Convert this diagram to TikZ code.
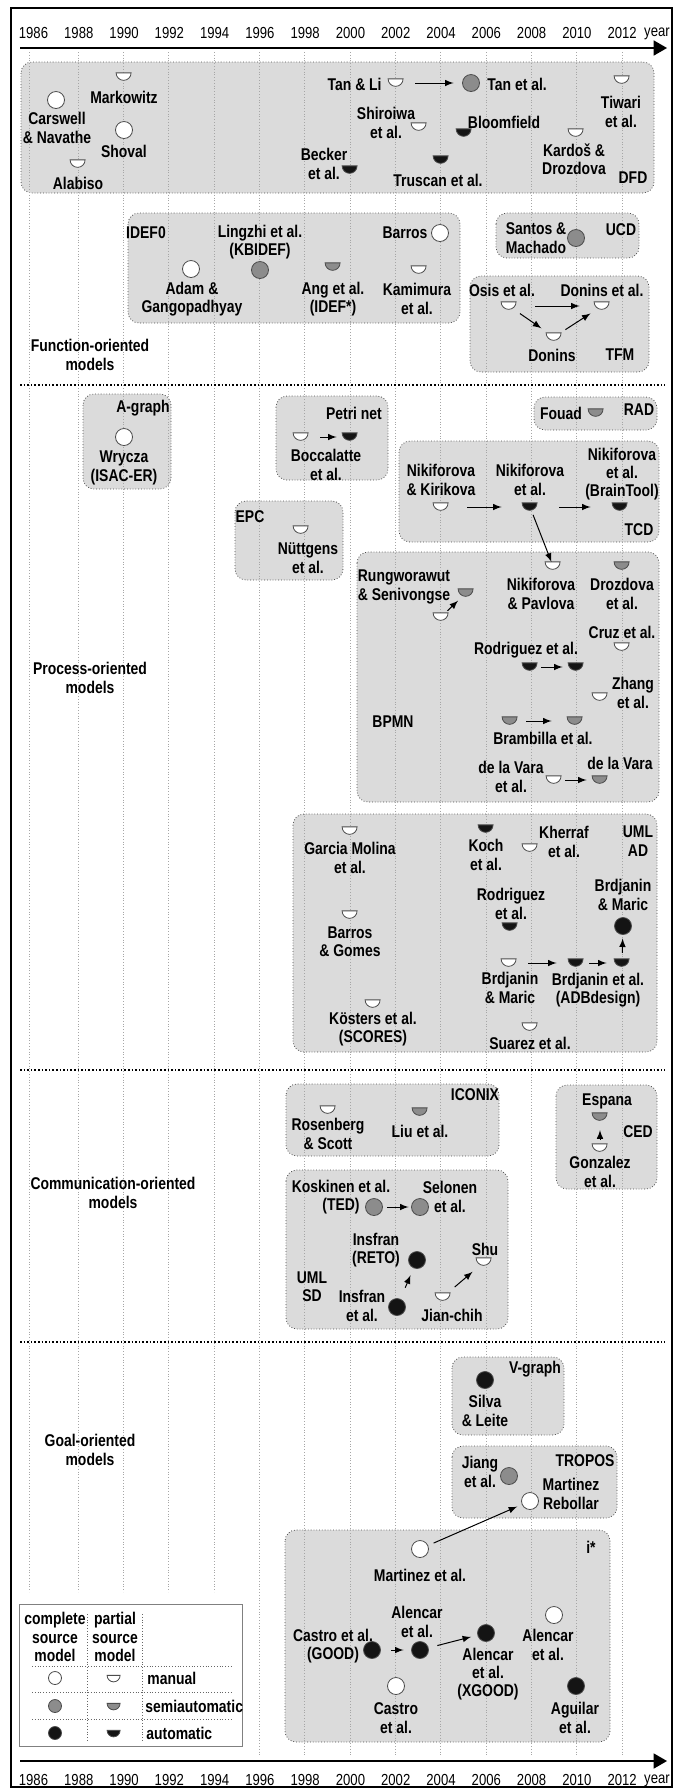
\documentclass[tikz,border=0pt]{standalone}
\usepackage{fontspec}
\setmainfont{Liberation Sans}[FakeStretch=0.82]
\usetikzlibrary{arrows}

\definecolor{boxgray}{gray}{0.86}
\definecolor{semigray}{gray}{0.55}
\definecolor{autoblack}{gray}{0.08}
\definecolor{symline}{gray}{0.3}

\tikzset{
	group/.style={draw=black!70,densely dotted,fill=boxgray,rounded corners=5.5pt},
	full/.style={circle,draw=symline,line width=0.4pt,inner sep=0pt,minimum size=8.5pt},
	halfbox/.style={rectangle,inner sep=0pt},
	lbl/.style={align=center,inner sep=0pt},
	link/.style={-latex,line width=0.5pt},
	axis/.style={-triangle 60,line width=0.8pt},
	gridline/.style={draw=black!35,densely dotted,line width=0.4pt},
	sep/.style={densely dotted,line width=0.8pt},
	legsep/.style={densely dotted,draw=black!60,line width=0.4pt}
}

% half symbol: [radius], name, centre, fill
\newcommand{\halfsym}[4][7.5]{%
	\node[halfbox,minimum width=#1pt,minimum height=#1*0.5pt] (#2) at (#3) {};
	\draw[draw=symline,line width=0.4pt,fill=#4] (#2.north west) arc[start angle=180,end angle=0,radius=#1] -- cycle;}

\begin{document}
\begin{tikzpicture}[x=0.5pt,y=-0.5pt,font=\fontsize{8.5}{9.2}\selectfont\bfseries]
	\useasboundingbox (0,0) rectangle (682,1790);
	\draw[line width=1pt] (11,8) rectangle (672,1787);
	%%% groups
	\draw[group] (21,62) rectangle (654,193);
	\draw[group] (128,213) rectangle (460,323);
	\draw[group] (496,213) rectangle (639,258);
	\draw[group] (470,276) rectangle (649,372);
	\draw[group] (83,394) rectangle (171,489);
	\draw[group] (276,396) rectangle (388,480);
	\draw[group] (534,397) rectangle (657,430);
	\draw[group] (399,441) rectangle (659,542);
	\draw[group] (235,501) rectangle (343,580);
	\draw[group] (357,552) rectangle (659,802);
	\draw[group] (293,814) rectangle (657,1052);
	\draw[group] (286,1084) rectangle (499,1156);
	\draw[group] (556,1085) rectangle (657,1189);
	\draw[group] (286,1170) rectangle (508,1329);
	\draw[group] (452,1357) rectangle (564,1435);
	\draw[group] (452,1446) rectangle (617,1518);
	\draw[group] (285,1530) rectangle (610,1742);
	%%% time axes and grid
	\draw[gridline] (29,52) -- (29,1592);
	\foreach \yr in {1988,1990,...,1994} {
		\pgfmathsetmacro\gx{32.7+(\yr-1986)*22.667}
		\draw[gridline] (\gx,52) -- (\gx,1592);
	}
	\foreach \yr in {1996,1998,...,2012} {
		\pgfmathsetmacro\gx{32.7+(\yr-1986)*22.667}
		\draw[gridline] (\gx,52) -- (\gx,1757);
	}
	\foreach \yr in {1986,1988,...,2012} {
		\pgfmathsetmacro\gx{33.5+(\yr-1986)*22.64}
		\node[lbl,font=\fontsize{8}{9}\selectfont\mdseries] (top\yr) at (\gx,33) {\yr};
		\node[lbl,font=\fontsize{8}{9}\selectfont\mdseries] (bot\yr) at (\gx,1780) {\yr};
	}
	\node[lbl,font=\fontsize{8}{9}\selectfont\mdseries] (topyear) at (657,34) {year};
	\node[lbl,font=\fontsize{8}{9}\selectfont\mdseries] (botyear) at (657,1781) {year};
	\coordinate (topL) at (20,48);
	\coordinate (topR) at (667,48);
	\coordinate (botL) at (20,1761);
	\coordinate (botR) at (667,1761);
	\draw[axis] (topL) -- (topR);
	\draw[axis] (botL) -- (botR);
	\draw[sep] (20,385) -- (665,385);
	\draw[sep] (20,1070) -- (665,1070);
	\draw[sep] (20,1342) -- (665,1342);
	%%% function-oriented: DFD
	\node[full,fill=white] (carswell) at (56,100) {};
	\node[lbl] (carswellT) at (57,128) {Carswell\\\& Navathe};
	\halfsym{markowitz}{124,77}{white}
	\node[lbl] (markowitzT) at (124,97) {Markowitz};
	\node[full,fill=white] (shoval) at (124,130) {};
	\node[lbl] (shovalT) at (124,151) {Shoval};
	\halfsym{alabiso}{78,164}{white}
	\node[lbl] (alabisoT) at (78,183) {Alabiso};
	\halfsym{tanli}{396,83}{white}
	\node[lbl,anchor=east] (tanliT) at (382,84) {Tan \& Li};
	\node[full,fill=semigray] (tan) at (471,83) {};
	\node[lbl,anchor=west] (tanT) at (487,84) {Tan et al.};
	\halfsym{shiroiwa}{419,127}{white}
	\node[lbl] (shiroiwaT) at (386,123) {Shiroiwa\\et al.};
	\halfsym{bloomfield}{464,133}{autoblack}
	\node[lbl] (bloomfieldT) at (504,122) {Bloomfield};
	\halfsym{becker}{350,170}{autoblack}
	\node[lbl] (beckerT) at (324,164) {Becker\\et al.};
	\halfsym{truscan}{441,160}{autoblack}
	\node[lbl] (truscanT) at (438,180) {Truscan et al.};
	\halfsym{tiwari}{622,80}{white}
	\node[lbl] (tiwariT) at (621,112) {Tiwari\\et al.};
	\halfsym{kardos}{576,133}{white}
	\node[lbl] (kardosT) at (574,159) {Kardoš \&\\Drozdova};
	\node[lbl] (dfd) at (633,178) {DFD};
	\draw[link,shorten <=5.75pt,shorten >=4.25pt] (tanli) -- (tan);
	%%% IDEF0, UCD, TFM
	\node[lbl] (idef) at (146,233) {IDEF0};
	\node[full,fill=semigray] (lingzhi) at (260,270) {};
	\node[lbl] (lingzhiT) at (260,242) {Lingzhi et al.\\(KBIDEF)};
	\node[full,fill=white] (adam) at (191,269) {};
	\node[lbl] (adamT) at (192,299) {Adam \&\\Gangopadhyay};
	\halfsym{ang}{333,267}{semigray}
	\node[lbl] (angT) at (333,299) {Ang et al.\\(IDEF*)};
	\node[full,fill=white] (barros) at (440,233) {};
	\node[lbl] (barrosT) at (405,233) {Barros};
	\halfsym{kamimura}{419,270}{white}
	\node[lbl] (kamimuraT) at (417,299) {Kamimura\\et al.};
	\node[lbl] (santosT) at (536,238) {Santos \&\\Machado};
	\node[full,fill=semigray] (santos) at (576,238) {};
	\node[lbl] (ucd) at (621,230) {UCD};
	\node[lbl] (osisT) at (502,290) {Osis et al.};
	\halfsym{osis}{509,306}{white}
	\node[lbl] (doninsBT) at (602,290) {Donins et al.};
	\halfsym{doninsB}{602,306}{white}
	\halfsym{donins}{554,337}{white}
	\node[lbl] (doninsT) at (552,355) {Donins};
	\node[lbl] (tfm) at (620,355) {TFM};
	\draw[link,shorten <=9.25pt,shorten >=7.25pt] (osis) -- (doninsB);
	\draw[link,shorten <=3pt,shorten >=4pt] (osis) -- (donins);
	\draw[link,shorten <=3pt,shorten >=3pt] (donins) -- (doninsB);
	\node[lbl] (funcT) at (90,355) {Function-oriented\\models};
	%%% process-oriented
	\node[lbl] (agraph) at (143,408) {A-graph};
	\node[full,fill=white] (wrycza) at (124,437) {};
	\node[lbl] (wryczaT) at (124,468) {Wrycza\\(ISAC-ER)};
	\node[lbl] (petri) at (354,413) {Petri net};
	\halfsym{boccA}{301,437}{white}
	\halfsym{boccB}{350,437}{autoblack}
	\node[lbl] (boccT) at (326,465) {Boccalatte\\et al.};
	\draw[link,shorten <=5.75pt,shorten >=2.75pt] (boccA) -- (boccB);
	\node[lbl] (fouadT) at (561,413) {Fouad};
	\halfsym{fouad}{596,413}{semigray}
	\node[lbl] (rad) at (639,410) {RAD};
	\node[lbl] (nikKirT) at (441,480) {Nikiforova\\\& Kirikova};
	\halfsym{nikKir}{441,507}{white}
	\node[lbl] (nikEtT) at (530,480) {Nikiforova\\et al.};
	\halfsym{nikEt}{530,507}{autoblack}
	\node[lbl] (nikBrainT) at (622,474) {Nikiforova\\et al.\\(BrainTool)};
	\halfsym{nikBrain}{620,507}{autoblack}
	\node[lbl] (tcd) at (639,530) {TCD};
	\draw[link,shorten <=9.25pt,shorten >=10.25pt] (nikKir) -- (nikEt);
	\draw[link,shorten <=10.75pt,shorten >=10.75pt] (nikEt) -- (nikBrain);
	\node[lbl] (epc) at (250,517) {EPC};
	\halfsym{nuttgens}{301,530}{white}
	\node[lbl] (nuttgensT) at (308,558) {Nüttgens\\et al.};
	\halfsym{nikPav}{553,566}{white}
	\node[lbl] (nikPavT) at (541,594) {Nikiforova\\\& Pavlova};
	\draw[link,shorten <=2pt] (nikEt) -- (nikPav);
	\halfsym{drozdova}{622,566}{semigray}
	\node[lbl] (drozdovaT) at (622,594) {Drozdova\\et al.};
	\halfsym{rungB}{466,593}{semigray}
	\halfsym{rungA}{441,617}{white}
	\node[lbl] (rungT) at (404,587) {Rungworawut\\\& Senivongse};
	\draw[link,shorten <=1.5pt,shorten >=2.5pt] (rungA) -- (rungB);
	\node[lbl] (cruzT) at (622,632) {Cruz et al.};
	\halfsym{cruz}{622,647}{white}
	\node[lbl] (rodriguezT) at (526,650) {Rodriguez et al.};
	\halfsym{rodriguezA}{530,667}{autoblack}
	\halfsym{rodriguezB}{576,667}{autoblack}
	\draw[link,shorten <=1.75pt,shorten >=2.75pt] (rodriguezA) -- (rodriguezB);
	\halfsym{zhang}{600,697}{white}
	\node[lbl] (zhangT) at (633,693) {Zhang\\et al.};
	\node[lbl] (bpmn) at (393,722) {BPMN};
	\halfsym{brambillaA}{510,721}{semigray}
	\halfsym{brambillaB}{575,721}{semigray}
	\node[lbl] (brambillaT) at (543,738) {Brambilla et al.};
	\draw[link,shorten <=4.25pt,shorten >=7.75pt] (brambillaA) -- (brambillaB);
	\node[lbl] (delavaraAT) at (511,777) {de la Vara\\et al.};
	\halfsym{delavaraA}{554,780}{white}
	\halfsym{delavaraB}{600,780}{semigray}
	\node[lbl] (delavaraBT) at (620,763) {de la Vara};
	\draw[link,shorten <=1.75pt,shorten >=2.75pt] (delavaraA) -- (delavaraB);
	\node[lbl] (procT) at (90,678) {Process-oriented\\models};
	%%% UML AD
	\halfsym{garcia}{350,831}{white}
	\node[lbl] (garciaT) at (350,858) {Garcia Molina\\et al.};
	\halfsym{koch}{486,829}{autoblack}
	\node[lbl] (kochT) at (486,855) {Koch\\et al.};
	\halfsym{kherraf}{530,848}{white}
	\node[lbl] (kherrafT) at (564,842) {Kherraf\\et al.};
	\node[lbl] (umlad) at (638,841) {UML\\AD};
	\node[lbl] (rodriguezADT) at (511,904) {Rodriguez\\et al.};
	\halfsym{rodriguezAD}{510,927}{autoblack}
	\node[full,fill=autoblack] (brdjaninC) at (623,926) {};
	\node[lbl] (brdjaninCT) at (623,895) {Brdjanin\\\& Maric};
	\halfsym{barrosG}{350,915}{white}
	\node[lbl] (barrosGT) at (350,942) {Barros\\\& Gomes};
	\halfsym{brdjaninA}{509,963}{white}
	\node[lbl] (brdjaninAT) at (510,988) {Brdjanin\\\& Maric};
	\halfsym{brdjaninB}{576,963}{autoblack}
	\halfsym{brdjaninD}{622,963}{autoblack}
	\node[lbl] (brdjaninBT) at (598,990) {Brdjanin et al.\\(ADBdesign)};
	\draw[link,shorten <=5.75pt,shorten >=5.75pt] (brdjaninA) -- (brdjaninB);
	\draw[link,shorten <=2.75pt,shorten >=3.75pt] (brdjaninB) -- (brdjaninD);
	\draw[link,shorten <=3pt,shorten >=1.75pt] (brdjaninD) -- (brdjaninC);
	\halfsym{kosters}{373,1004}{white}
	\node[lbl] (kostersT) at (373,1029) {Kösters et al.\\(SCORES)};
	\halfsym{suarez}{530,1027}{white}
	\node[lbl] (suarezT) at (530,1043) {Suarez et al.};
	%%% communication-oriented
	\halfsym{rosenberg}{328,1110}{white}
	\node[lbl] (rosenbergT) at (328,1134) {Rosenberg\\\& Scott};
	\halfsym{liu}{420,1112}{semigray}
	\node[lbl] (liuT) at (420,1131) {Liu et al.};
	\node[lbl] (iconix) at (475,1095) {ICONIX};
	\node[lbl] (espanaT) at (607,1101) {Espana};
	\halfsym{espana}{600,1117}{semigray}
	\halfsym{gonzalez}{600,1148}{white}
	\node[lbl] (gonzalezT) at (600,1172) {Gonzalez\\et al.};
	\node[lbl] (ced) at (638,1132) {CED};
	\draw[link,shorten <=2pt,shorten >=4.5pt] (gonzalez) -- (espana);
	\node[lbl] (koskinenT) at (341,1197) {Koskinen et al.\\(TED)};
	\node[full,fill=semigray] (koskinen) at (374,1207) {};
	\node[full,fill=semigray] (selonen) at (420,1207) {};
	\node[lbl] (selonenT) at (450,1197) {Selonen\\et al.};
	\draw[link,shorten <=2.25pt,shorten >=1.25pt] (koskinen) -- (selonen);
	\node[lbl] (insfranRT) at (376,1250) {Insfran\\(RETO)};
	\node[full,fill=autoblack] (insfranR) at (417,1260) {};
	\node[lbl] (shuT) at (485,1249) {Shu};
	\halfsym{shu}{484,1262}{white}
	\node[lbl] (umlsd) at (312,1287) {UML\\SD};
	\node[lbl] (insfranT) at (362,1306) {Insfran\\et al.};
	\node[full,fill=autoblack] (insfran) at (397,1307) {};
	\draw[link,shorten <=6pt,shorten >=3.8pt] (insfran) -- (insfranR);
	\halfsym{jianchih}{443,1297}{white}
	\node[lbl] (jianchihT) at (452,1315) {Jian-chih};
	\draw[link,shorten <=4.5pt,shorten >=4.3pt] (jianchih) -- (shu);
	\node[lbl] (commT) at (113,1193) {Communication-oriented\\models};
	%%% goal-oriented
	\node[lbl] (vgraph) at (535,1369) {V-graph};
	\node[full,fill=autoblack] (silva) at (485,1380) {};
	\node[lbl] (silvaT) at (485,1411) {Silva\\\& Leite};
	\node[lbl] (jiangT) at (480,1472) {Jiang\\et al.};
	\node[full,fill=semigray] (jiang) at (509,1476) {};
	\node[lbl] (tropos) at (585,1461) {TROPOS};
	\node[full,fill=white] (martinezR) at (530,1501) {};
	\node[lbl] (martinezRT) at (571,1494) {Martinez\\Rebollar};
	\node[full,fill=white] (martinez) at (420,1549) {};
	\node[lbl] (martinezT) at (420,1575) {Martinez et al.};
	\draw[link,shorten <=3pt,shorten >=2.5pt] (martinez) -- (martinezR);
	\node[lbl] (istar) at (591,1547) {i*};
	\node[lbl] (castroGT) at (333,1646) {Castro et al.\\(GOOD)};
	\node[full,fill=autoblack] (castroG) at (372,1650) {};
	\node[full,fill=autoblack] (alencarA) at (420,1650) {};
	\node[lbl] (alencarAT) at (417,1622) {Alencar\\et al.};
	\node[full,fill=autoblack] (alencarX) at (486,1633) {};
	\node[lbl] (alencarXT) at (488,1674) {Alencar\\et al.\\(XGOOD)};
	\draw[link,shorten <=5.25pt,shorten >=3.75pt] (castroG) -- (alencarA);
	\draw[link,shorten <=4.5pt,shorten >=3.2pt] (alencarA) -- (alencarX);
	\node[full,fill=white] (castro) at (396,1686) {};
	\node[lbl] (castroT) at (396,1718) {Castro\\et al.};
	\node[full,fill=white] (alencarB) at (554,1615) {};
	\node[lbl] (alencarBT) at (548,1645) {Alencar\\et al.};
	\node[full,fill=autoblack] (aguilar) at (576,1686) {};
	\node[lbl] (aguilarT) at (575,1718) {Aguilar\\et al.};
	\node[lbl] (goalT) at (90,1450) {Goal-oriented\\models};
	%%% legend
	\draw[draw=black!50,fill=white,line width=0.4pt] (19,1604) rectangle (242,1746);
	\draw[legsep] (87,1614) -- (87,1742);
	\draw[legsep] (142,1614) -- (142,1742);
	\draw[legsep] (32,1666) -- (233,1666);
	\draw[legsep] (32,1692) -- (233,1692);
	\draw[legsep] (32,1719) -- (233,1719);
	\node[lbl] (legComplete) at (55,1637) {complete\\source\\model};
	\node[lbl] (legPartial) at (115,1637) {partial\\source\\model};
	\node[full,fill=white,minimum size=6.5pt] (legMf) at (55,1678) {};
	\halfsym[6.5]{legMh}{114,1679}{white}
	\node[lbl,anchor=west] (legM) at (147,1678) {manual};
	\node[full,fill=semigray,minimum size=6.5pt] (legSf) at (55,1706) {};
	\halfsym[6.5]{legSh}{114,1707}{semigray}
	\node[lbl,anchor=west] (legS) at (145,1706) {semiautomatic};
	\node[full,fill=autoblack,minimum size=6.5pt] (legAf) at (55,1733) {};
	\halfsym[6.5]{legAh}{114,1734}{autoblack}
	\node[lbl,anchor=west] (legA) at (146,1733) {automatic};
\end{tikzpicture}
\end{document}
